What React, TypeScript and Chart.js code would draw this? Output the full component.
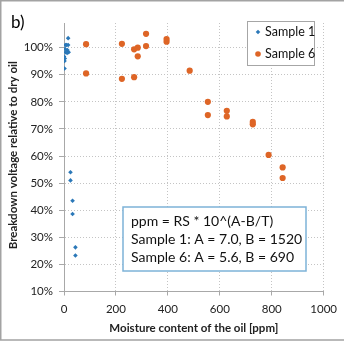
import React, { useEffect, useRef } from "react";
import { Chart, registerables } from "chart.js";

Chart.register(...registerables);

const sample1Name = "Sample 1";
const sample6Name = "Sample 6";
const sample1X = [16, 5, 16, 10, 4, 13, 18, 6, 12, 0, 3, 2, 2, 25, 25, 33, 33, 44, 44];
const sample1Y = [103.5, 101, 101, 101, 99.5, 99.1, 98.3, 98.3, 98, 96.7, 96, 95.1, 92.3, 54, 51, 43.5, 38.6, 26.3, 23.3];
const sample6X = [85, 85, 223, 223, 270, 284, 284, 270, 316, 316, 395, 395, 484, 554, 554, 627, 627, 727, 727, 788, 842, 842];
const sample6Y = [101.3, 90.5, 101.4, 88.5, 99.4, 100, 96.8, 89.1, 105.1, 100.6, 103.2, 102.2, 91.5, 80, 75.1, 76.7, 74.6, 72.6, 71.7, 60.4, 55.8, 51.9];
const xTicks = [0, 200, 400, 600, 800, 1000];
const yTicks = [10, 20, 30, 40, 50, 60, 70, 80, 90, 100];
const panelLabel = "b)";
const xTitle = "Moisture content of the oil [ppm]";
const yTitle = "Breakdown voltage relative to dry oil";
const noteLines = ["ppm = RS * 10^(A-B/T)", "Sample 1: A = 7.0, B = 1520", "Sample 6: A = 5.6, B = 690"];

const FONT = "Lato, 'Open Sans', sans-serif";
const BLUE = "#2b78b8";
const ORANGE = "#de6526";

const overlay = {
  id: "overlay",
  afterDraw(chart: any) {
    const ctx = chart.ctx as CanvasRenderingContext2D;
    const W = chart.width;
    ctx.save();
    ctx.strokeStyle = "#a3a3a3";
    ctx.lineWidth = 1.5;
    ctx.beginPath();
    ctx.moveTo(W, 0.75);
    ctx.lineTo(0.75, 0.75);
    ctx.lineTo(0.75, 340);
    ctx.lineTo(W, 340);
    ctx.stroke();

    ctx.fillStyle = "#000";
    ctx.font = `17px ${FONT}`;
    ctx.textAlign = "left";
    ctx.textBaseline = "alphabetic";
    ctx.fillText(panelLabel, 11, 28);

    const area = chart.chartArea;
    ctx.save();
    ctx.translate(13, (area.top + area.bottom) / 2 - 2);
    ctx.rotate(-Math.PI / 2);
    ctx.font = `bold 11.5px ${FONT}`;
    ctx.textAlign = "center";
    ctx.textBaseline = "middle";
    ctx.fillStyle = "#222";
    ctx.fillText(yTitle, 0, 0);
    ctx.restore();

    ctx.font = `bold 11.5px ${FONT}`;
    ctx.textAlign = "center";
    ctx.textBaseline = "middle";
    ctx.fillStyle = "#222";
    ctx.fillText(xTitle, (area.left + area.right) / 2, 328);

    ctx.fillStyle = "#fff";
    ctx.fillRect(247, 21, 67, 44);
    ctx.strokeStyle = "#a6a6a6";
    ctx.lineWidth = 1;
    ctx.strokeRect(247.5, 21.5, 67, 44);
    const ds = chart.data.datasets;
    const rows = [32, 54];
    ds.forEach((d: any, i: number) => {
      const y = rows[i];
      ctx.fillStyle = d.backgroundColor;
      ctx.beginPath();
      if (d.pointStyle === "rectRot") {
        ctx.moveTo(258, y - 2.3);
        ctx.lineTo(260.3, y);
        ctx.lineTo(258, y + 2.3);
        ctx.lineTo(255.7, y);
        ctx.closePath();
      } else {
        ctx.arc(258, y, 2.8, 0, Math.PI * 2);
      }
      ctx.fill();
      ctx.fillStyle = "#111";
      ctx.font = `12.5px ${FONT}`;
      ctx.textAlign = "left";
      ctx.textBaseline = "middle";
      ctx.fillText(d.label, 265, y);
    });

    ctx.fillStyle = "#fff";
    ctx.fillRect(123, 207, 183, 64);
    ctx.strokeStyle = "#7db3d8";
    ctx.lineWidth = 1.5;
    ctx.strokeRect(123, 207, 183, 64);
    ctx.fillStyle = "#111";
    ctx.font = `14px ${FONT}`;
    ctx.textAlign = "left";
    ctx.textBaseline = "middle";
    const ys = [221, 239.5, 257];
    noteLines.forEach((t, i) => ctx.fillText(t, 131, ys[i]));
    ctx.restore();
  },
};

export default function App() {
  const ref = useRef<HTMLCanvasElement | null>(null);
  useEffect(() => {
    if (!ref.current) return;
    const s1 = sample1X.map((x, i) => ({ x, y: sample1Y[i] }));
    const s6 = sample6X.map((x, i) => ({ x, y: sample6Y[i] }));
    const chart = new Chart(ref.current, {
      type: "scatter",
      data: {
        datasets: [
          {
            label: sample1Name,
            data: s1,
            backgroundColor: BLUE,
            borderColor: BLUE,
            pointStyle: "rectRot",
            pointRadius: 2.3,
            borderWidth: 0,
          },
          {
            label: sample6Name,
            data: s6,
            backgroundColor: ORANGE,
            borderColor: ORANGE,
            pointStyle: "circle",
            pointRadius: 3.1,
            borderWidth: 0,
          },
        ],
      },
      options: {
        animation: false,
        responsive: false,
        devicePixelRatio: 1,
        layout: { padding: { left: 0, top: 23, right: 19, bottom: 0 } },
        plugins: { legend: { display: false }, tooltip: { enabled: false } },
        scales: {
          x: {
            type: "linear",
            min: 0,
            max: 1000,
            afterFit: (s: any) => {
              s.height = 54.5;
            },
            afterBuildTicks: (s: any) => {
              s.ticks = xTicks.map((v) => ({ value: v }));
            },
            grid: {
              color: "#c4c4c4",
              tickLength: 4,
              tickColor: "#a8a8a8",
              tickBorderDash: [],
            },
            border: { display: true, color: "#a8a8a8", width: 1, dash: [1, 2] },
            ticks: {
              padding: 7,
              color: "#222",
              font: { family: FONT, size: 11.5 },
              maxRotation: 0,
              callback: (v: any) => String(v),
            },
          },
          y: {
            type: "linear",
            min: 10,
            max: 109.1,
            afterFit: (s: any) => {
              s.width = 64;
            },
            afterBuildTicks: (s: any) => {
              s.ticks = yTicks.map((v) => ({ value: v }));
            },
            grid: {
              color: "#c4c4c4",
              tickLength: 5,
              tickColor: "#a8a8a8",
              tickBorderDash: [],
            },
            border: { display: true, color: "#a8a8a8", width: 1, dash: [1, 2] },
            ticks: {
              padding: 6,
              color: "#222",
              font: { family: FONT, size: 11.5 },
              callback: (v: any) => `${v}%`,
            },
          },
        },
      },
      plugins: [overlay],
    });
    return () => chart.destroy();
  }, []);
  return (
    <div style={{ position: "absolute", left: 0, top: 0, width: 344, height: 346, background: "#fff" }}>
      <canvas ref={ref} width={344} height={346} style={{ display: "block", width: 344, height: 346 }} />
    </div>
  );
}
